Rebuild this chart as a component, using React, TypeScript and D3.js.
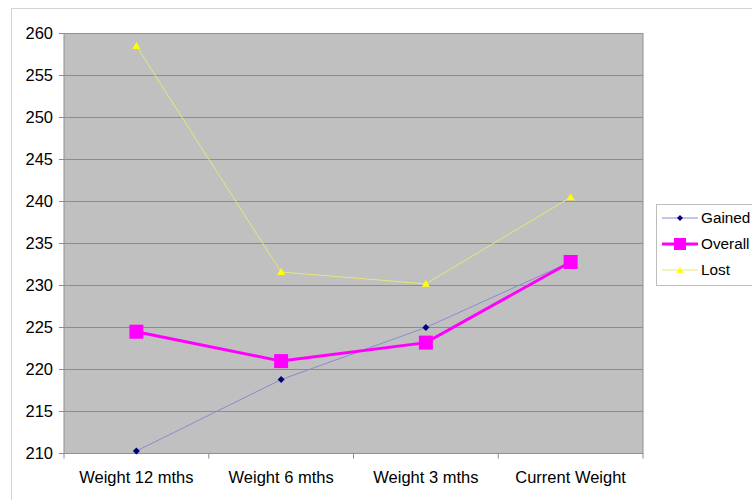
import React from "react";
import * as d3 from "d3";

const categories = ["Weight 12 mths", "Weight 6 mths", "Weight 3 mths", "Current Weight"];
const gained = [210.3, 218.8, 225.0, 232.8];
const overall = [224.5, 221.0, 223.2, 232.8];
const lost = [258.5, 231.6, 230.2, 240.5];
const yTicks = [210, 215, 220, 225, 230, 235, 240, 245, 250, 255, 260];
const seriesNames = ["Gained", "Overall", "Lost"];

const W = 752, H = 500;
const plot = { left: 64, top: 33.5, right: 643, bottom: 453.5 };
const FONT = "'Liberation Sans', Arial, sans-serif";
const FS = 16.5;
const LFS = 15.3;

export default function App() {
  const x = d3.scaleBand<string>().domain(categories).range([plot.left, plot.right]);
  const y = d3.scaleLinear().domain([210, 260]).range([plot.bottom, plot.top]);
  const cx = (c: string) => (x(c) ?? 0) + x.bandwidth() / 2;
  const line = d3.line<number>().x((_, i) => cx(categories[i])).y((v) => y(v));

  const diamond = (px: number, py: number, r: number) =>
    `M${px},${py - r}L${px + r},${py}L${px},${py + r}L${px - r},${py}Z`;
  const tri = (px: number, py: number, r: number) =>
    `M${px},${py - r}L${px + r},${py + r * 0.75}L${px - r},${py + r * 0.75}Z`;

  const lg = { x: 656, y: 204, w: 110, h: 81 };
  const rows = [218, 244, 270];

  return (
    <svg width={W} height={H} style={{ position: "absolute", left: 0, top: 0 }} fontFamily={FONT}>
      <rect x={0} y={0} width={W} height={H} fill="#fff" />
      {/* outer chart border */}
      <rect x={11.5} y={8.5} width={W + 10} height={H + 10} fill="none" stroke="#d4d4d4" strokeWidth={1} />
      {/* plot area */}
      <rect x={plot.left} y={plot.top} width={plot.right - plot.left} height={plot.bottom - plot.top} fill="#c0c0c0" />
      {yTicks.map((t) => (
        <g key={t}>
          <line x1={plot.left} x2={plot.right} y1={y(t)} y2={y(t)} stroke="#8c8c8c" strokeWidth={1} />
          <line x1={59} x2={plot.left} y1={y(t)} y2={y(t)} stroke="#8c8c8c" strokeWidth={1} />
          <text x={53} y={y(t)} dy="0.35em" textAnchor="end" fontSize={FS} fill="#000">{t}</text>
        </g>
      ))}
      <rect x={plot.left} y={plot.top} width={plot.right - plot.left} height={plot.bottom - plot.top} fill="none" stroke="#909090" strokeWidth={1} />
      {categories.map((c, i) => (
        <g key={c}>
          <line x1={(x(c) ?? 0)} x2={(x(c) ?? 0)} y1={plot.bottom} y2={plot.bottom + 5} stroke="#8c8c8c" />
          {i === categories.length - 1 && (
            <line x1={plot.right} x2={plot.right} y1={plot.bottom} y2={plot.bottom + 5} stroke="#8c8c8c" />
          )}
          <text x={cx(c)} y={483} textAnchor="middle" fontSize={FS} fill="#000">{c}</text>
        </g>
      ))}
      {/* Lost */}
      <path d={line(lost) ?? ""} fill="none" stroke="#e6e67a" strokeWidth={1} />
      {lost.map((v, i) => (
        <path key={i} d={tri(cx(categories[i]), y(v), 4)} fill="#ffff00" />
      ))}
      {/* Gained */}
      <path d={line(gained) ?? ""} fill="none" stroke="#8a8ad0" strokeWidth={1} />
      {gained.map((v, i) => (
        <path key={i} d={diamond(cx(categories[i]), y(v), 3.5)} fill="#000080" />
      ))}
      {/* Overall */}
      <path d={line(overall) ?? ""} fill="none" stroke="#ff00ff" strokeWidth={3} />
      {overall.map((v, i) => (
        <rect key={i} x={cx(categories[i]) - 7} y={y(v) - 7} width={14} height={14} fill="#ff00ff" />
      ))}
      {/* legend */}
      <rect x={lg.x + 0.5} y={lg.y + 0.5} width={lg.w} height={lg.h} fill="#fff" stroke="#bdbdbd" strokeWidth={1} />
      {seriesNames.map((n, i) => {
        const ry = rows[i];
        const mx = 680;
        return (
          <g key={n}>
            {i === 0 && (
              <>
                <line x1={662} x2={698} y1={ry} y2={ry} stroke="#8a8ad0" strokeWidth={1} />
                <path d={diamond(mx, ry, 3)} fill="#000080" />
              </>
            )}
            {i === 1 && (
              <>
                <line x1={662} x2={698} y1={ry} y2={ry} stroke="#ff00ff" strokeWidth={3} />
                <rect x={mx - 6} y={ry - 6} width={12} height={12} fill="#ff00ff" />
              </>
            )}
            {i === 2 && (
              <>
                <line x1={662} x2={698} y1={ry} y2={ry} stroke="#e6e67a" strokeWidth={1} />
                <path d={tri(mx, ry, 3.5)} fill="#ffff00" />
              </>
            )}
            <text x={701} y={ry} dy="0.35em" fontSize={LFS} fill="#000">{n}</text>
          </g>
        );
      })}
    </svg>
  );
}
